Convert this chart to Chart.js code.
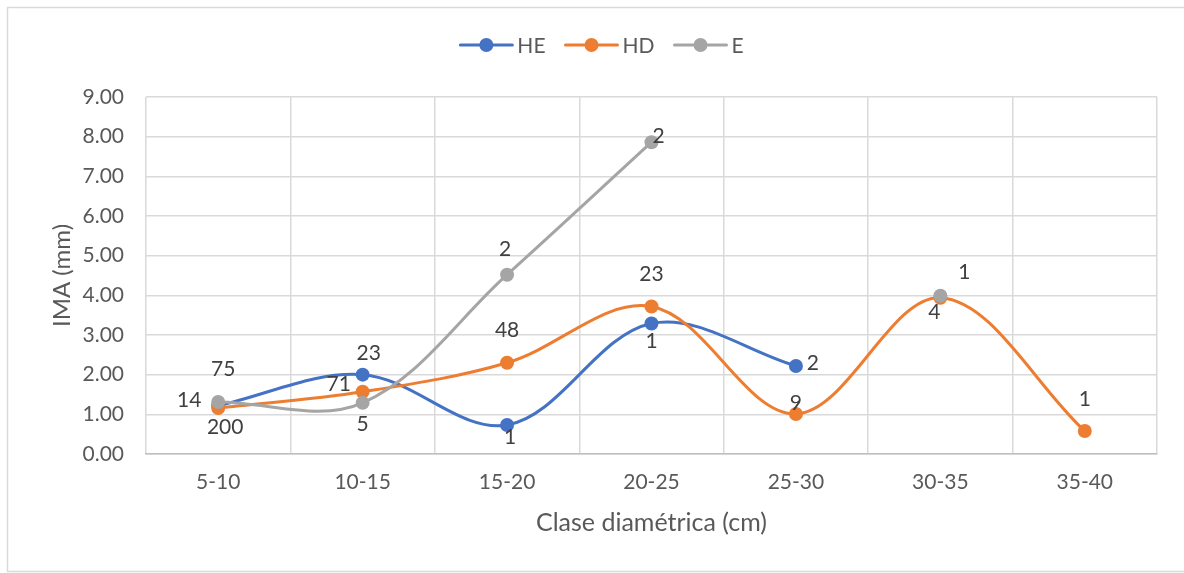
<!DOCTYPE html>
<html>
<head>
<meta charset="utf-8">
<script src="https://cdn.jsdelivr.net/npm/chart.js@4/dist/chart.umd.min.js"></script>
<style>
  html, body { margin: 0; padding: 0; background: #ffffff; }
  canvas { display: block; }
</style>
</head>
<body>
<canvas id="chart" width="1184" height="573"></canvas>
<script>
// Diameter classes and mean annual increment (IMA, mm) per group
const categories = ['5-10', '10-15', '15-20', '20-25', '25-30', '30-35', '35-40'];
const heValues = [1.22, 2.00, 0.73, 3.29, 2.22, null, null];
const hdValues = [1.16, 1.57, 2.30, 3.72, 1.01, 3.94, 0.58];
const eValues  = [1.31, 1.29, 4.52, 7.86, null, 3.99, null];

// Number of trees behind each point, printed next to it
const heCounts = ['14', '23', '1', '1', '2', null, null];
const hdCounts = ['200', '71', '48', '23', '9', '4', '1'];
const eCounts  = ['75', '5', '2', '2', null, '1', null];

// Value axis range
const yMin = 0;
const yMax = 9;
const yStep = 1;

// Where each count label sits relative to its point (pixels)
const heLabelOffsets = [[-29, -5], [6, -21], [3, 12], [0, 18], [17, -3], null, null];
const hdLabelOffsets = [[7, 19], [-24, -7], [0, -33], [0, -32], [0, -11], [-6, 15], [0, -32]];
const eLabelOffsets  = [[5, -33], [0, 21], [-2, -25], [7, -6], null, [24, -23], null];

const FONT = 'Lato, "Open Sans", sans-serif';
const COLORS = { HE: '#4472C4', HD: '#ED7D31', E: '#A5A5A5' };

const seriesDefs = [
  { label: 'HE', data: heValues, counts: heCounts, offsets: heLabelOffsets, color: COLORS.HE, order: 2 },
  { label: 'HD', data: hdValues, counts: hdCounts, offsets: hdLabelOffsets, color: COLORS.HD, order: 1 },
  { label: 'E',  data: eValues,  counts: eCounts,  offsets: eLabelOffsets,  color: COLORS.E,  order: 0 }
];

// White background and thin outer frame
const framePlugin = {
  id: 'frame',
  beforeDraw(chart) {
    const ctx = chart.ctx;
    ctx.save();
    ctx.fillStyle = '#ffffff';
    ctx.fillRect(0, 0, chart.width, chart.height);
    ctx.strokeStyle = '#d9d9d9';
    ctx.lineWidth = 1.5;
    ctx.strokeRect(7.5, 7.5, chart.width + 20, chart.height - 9);
    ctx.restore();
  }
};

// Legend (line + marker), axis titles and count labels
const decorPlugin = {
  id: 'decor',
  afterDatasetsDraw(chart) {
    const ctx = chart.ctx;
    const area = chart.chartArea;
    ctx.save();

    // count labels
    ctx.font = '21px ' + FONT;
    ctx.fillStyle = '#404040';
    ctx.textAlign = 'center';
    ctx.textBaseline = 'middle';
    seriesDefs.forEach((s, di) => {
      const meta = chart.getDatasetMeta(di);
      s.counts.forEach((txt, i) => {
        if (txt == null || s.data[i] == null) return;
        const pt = meta.data[i];
        const off = s.offsets[i] || [0, -25];
        ctx.fillText(txt, pt.x + off[0], pt.y + off[1]);
      });
    });

    // axis titles
    ctx.fillStyle = '#595959';
    ctx.font = '25px ' + FONT;
    ctx.fillText('Clase diamétrica (cm)', (area.left + area.right) / 2, 523);
    ctx.font = '24px ' + FONT;
    ctx.save();
    ctx.translate(62, (area.top + area.bottom) / 2);
    ctx.rotate(-Math.PI / 2);
    ctx.fillText('IMA (mm)', 0, 0);
    ctx.restore();

    // legend
    ctx.font = '21px ' + FONT;
    const lineLen = 52, gapText = 5, gapItem = 20;
    const widths = seriesDefs.map(s => lineLen + gapText + ctx.measureText(s.label).width);
    const total = widths.reduce((a, b) => a + b, 0) + gapItem * (seriesDefs.length - 1);
    let x = 602 - total / 2;
    const y = 45;
    seriesDefs.forEach((s, i) => {
      ctx.strokeStyle = s.color;
      ctx.lineWidth = 3;
      ctx.lineCap = 'round';
      ctx.beginPath();
      ctx.moveTo(x, y);
      ctx.lineTo(x + lineLen, y);
      ctx.stroke();
      ctx.fillStyle = s.color;
      ctx.beginPath();
      ctx.arc(x + lineLen / 2, y, 7, 0, Math.PI * 2);
      ctx.fill();
      ctx.fillStyle = '#595959';
      ctx.textAlign = 'left';
      ctx.fillText(s.label, x + lineLen + gapText, y + 1);
      x += widths[i] + gapItem;
    });

    ctx.restore();
  }
};

function build() {
  new Chart(document.getElementById('chart'), {
    type: 'line',
    data: {
      labels: categories,
      datasets: seriesDefs.map(s => ({
        label: s.label,
        data: s.data,
        order: s.order,
        borderColor: s.color,
        backgroundColor: s.color,
        pointBackgroundColor: s.color,
        pointBorderColor: s.color,
        pointBorderWidth: 0,
        pointRadius: 7,
        borderWidth: 3,
        tension: 0.35,
        spanGaps: false,
        fill: false
      }))
    },
    options: {
      responsive: false,
      devicePixelRatio: 1,
      animation: false,
      events: [],
      layout: { padding: { top: 97, right: 27, left: 0, bottom: 0 } },
      plugins: {
        legend: { display: false },
        tooltip: { enabled: false },
        title: { display: false }
      },
      scales: {
        x: {
          type: 'category',
          offset: true,
          grid: { offset: true, color: '#d9d9d9', lineWidth: 1.5, drawTicks: false },
          border: { color: '#bfbfbf', width: 1.5 },
          ticks: { color: '#595959', font: { family: FONT, size: 21 }, padding: 16, maxRotation: 0, autoSkip: false },
          afterFit(scale) { scale.height = 119; }
        },
        y: {
          min: yMin,
          max: yMax,
          grid: { color: '#d9d9d9', lineWidth: 1.5, drawTicks: false },
          border: { display: false },
          ticks: {
            stepSize: yStep,
            color: '#595959',
            font: { family: FONT, size: 21 },
            padding: 22,
            callback: v => Number(v).toFixed(2)
          },
          afterFit(scale) { scale.width = 146; }
        }
      }
    },
    plugins: [framePlugin, decorPlugin]
  });
}

if (document.fonts && document.fonts.load) {
  document.fonts.load('21px Lato').then(build, build);
} else {
  build();
}
</script>
</body>
</html>
